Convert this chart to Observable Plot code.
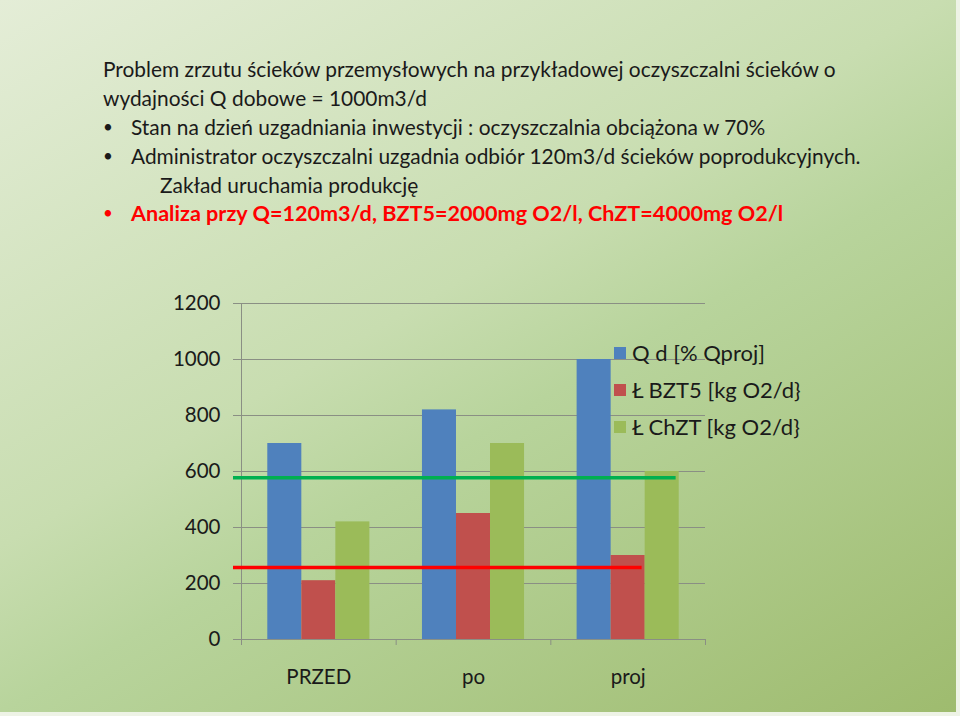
<!DOCTYPE html>
<html>
<head>
<meta charset="utf-8">
<script src="https://cdn.jsdelivr.net/npm/d3@7"></script>
<script src="https://cdn.jsdelivr.net/npm/@observablehq/plot@0.6"></script>
<style>
  html, body { margin: 0; padding: 0; }
  body {
    width: 960px; height: 716px; overflow: hidden; position: relative;
    font-family: Lato, "Open Sans", sans-serif;
    background: linear-gradient(150deg, #e4edd7 0%, #c8ddb0 43%, #b8d49c 56%, #9ebb6e 100%);
  }
  #frame { position: absolute; right: 0; bottom: 0; left: 0; top: 0;
    border-right: 4px solid #eef3e6; border-bottom: 4px solid #eef3e6; box-sizing: border-box; pointer-events: none; }
  #title { height: 270px; position: relative; color: #1a1a1a; font-size: 20.9px; }
  #title div { position: absolute; white-space: nowrap; line-height: 22px; }
  #chart { position: absolute; left: 0; top: 270px; }
  #legend { position: absolute; left: 614px; top: 334px; font-size: 22px; color: #1a1a1a; }
  #legend .row { height: 37px; display: flex; align-items: center; white-space: nowrap; }
  #legend .sw { width: 12px; height: 12px; margin-right: 6px; }
</style>
</head>
<body>
<div id="title"></div>
<div id="chart"></div>
<div id="legend"></div>
<div id="frame"></div>
<script>
// ---- data ----
const titleLines = [
  "Problem zrzutu ścieków przemysłowych na przykładowej oczyszczalni ścieków o",
  "wydajności Q dobowe = 1000m3/d"
];
const bulletLines = [
  "Stan na dzień uzgadniania inwestycji : oczyszczalnia obciążona w 70%",
  "Administrator oczyszczalni uzgadnia odbiór 120m3/d ścieków poprodukcyjnych."
];
const continuationLine = "Zakład uruchamia produkcję";
const redBullet = "Analiza  przy Q=120m3/d, BZT5=2000mg O2/l, ChZT=4000mg O2/l";

const categories = ["PRZED", "po", "proj"];
const seriesNames = ["Q d [% Qproj]", "Ł BZT5 [kg O2/d}", "Ł ChZT [kg O2/d}"];
const seriesColors = ["#4f81bd", "#c0504d", "#9bbb59"];
const qValues = [700, 820, 1000];
const bztValues = [210, 450, 300];
const chztValues = [420, 700, 600];
const yTicks = [0, 200, 400, 600, 800, 1000, 1200];
// threshold lines: value, colour, series whose bar in the last category they reach
const thresholdValues = [578, 257];
const thresholdColors = ["#00b050", "#ff0000"];
const thresholdSeries = [2, 1];

// ---- title ----
const title = document.getElementById("title");
function addLine(text, left, top, extra) {
  const d = document.createElement("div");
  d.textContent = text;
  d.style.left = left + "px";
  d.style.top = top + "px";
  if (extra) Object.assign(d.style, extra);
  title.appendChild(d);
  return d;
}
addLine(titleLines[0], 103, 58);
addLine(titleLines[1], 103, 87);
addLine("•", 103, 116, {fontSize: "17px"});
addLine(bulletLines[0], 131, 116);
addLine("•", 103, 145, {fontSize: "17px"});
addLine(bulletLines[1], 131, 145);
addLine(continuationLine, 160, 174);
addLine("•", 103, 202, {color: "#ff0000", fontSize: "17px"});
addLine(redBullet, 131, 202, {color: "#ff0000", fontWeight: "bold", fontSize: "21.6px"});

// ---- chart ----
const seriesValues = [qValues, bztValues, chztValues];
const barW = 0.22; // fraction of category width per bar
const bars = [];
categories.forEach((c, ci) => {
  seriesNames.forEach((s, si) => {
    const x1 = ci + 0.5 + (si - 1.5) * barW;
    bars.push({category: c, series: s, x1, x2: x1 + barW, value: seriesValues[si][ci]});
  });
});
const lastCat = categories.length - 1;
const thresholds = thresholdValues.map((v, i) => ({
  value: v, color: thresholdColors[i],
  x1: 0, x2: lastCat + 0.5 + (thresholdSeries[i] - 1.5) * barW + barW - 0.02
}));
const boundaries = d3.range(categories.length + 1);

const W = 960, H = 446;
const plot = Plot.plot({
  width: W, height: H,
  marginLeft: 241, marginRight: 255, marginTop: 33, marginBottom: 77,
  style: {background: "transparent", fontFamily: "Lato, 'Open Sans', sans-serif", fontSize: "20px", color: "#1a1a1a", overflow: "visible"},
  x: {type: "linear", domain: [0, categories.length], axis: null},
  y: {type: "linear", domain: [0, 1200], axis: null},
  color: {domain: seriesNames, range: seriesColors},
  marks: [
    // grid + left ticks
    Plot.ruleY(yTicks, {stroke: "#8a8f84", strokeWidth: 1, insetLeft: -8}),
    // y axis line
    Plot.ruleX([0], {y1: 0, y2: 1200, stroke: "#8a8f84", strokeWidth: 1}),
    // category boundary ticks hanging below the baseline
    Plot.ruleX(boundaries, {y1: 0, y2: 0, insetBottom: -6, stroke: "#8a8f84", strokeWidth: 1}),
    Plot.rectY(bars, {x1: "x1", x2: "x2", y: "value", fill: "series"}),
    Plot.ruleY(thresholds, {y: "value", x1: "x1", x2: "x2", stroke: "color", strokeWidth: 3.5, insetLeft: -8}),
    Plot.text(yTicks, {x: 0, y: d => d, text: d => String(d), textAnchor: "end", dx: -21, fill: "#1a1a1a", fontSize: 20.5}),
    Plot.text(categories, {x: (d, i) => i + 0.5, y: 0, text: d => d, dy: 38, fill: "#1a1a1a", fontSize: 20.5})
  ]
});
document.getElementById("chart").appendChild(plot);

// ---- legend ----
const legend = document.getElementById("legend");
seriesNames.forEach((s, i) => {
  const row = document.createElement("div");
  row.className = "row";
  const sw = document.createElement("div");
  sw.className = "sw";
  sw.style.background = seriesColors[i];
  const t = document.createElement("span");
  t.textContent = s;
  row.appendChild(sw); row.appendChild(t);
  legend.appendChild(row);
});
</script>
</body>
</html>
